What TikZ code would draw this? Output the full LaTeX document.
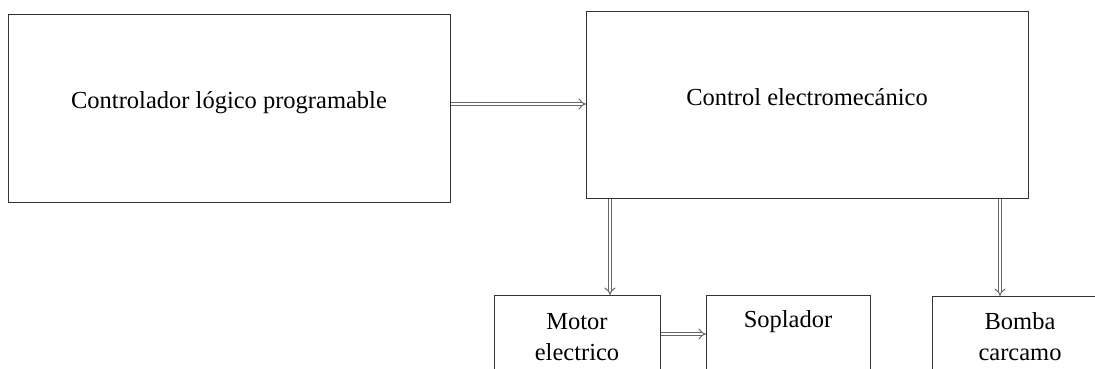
\documentclass[tikz,border=0pt]{standalone}
\usepackage{fontspec}
\setmainfont{Liberation Serif}
\usetikzlibrary{arrows.meta}
\begin{document}
\begin{tikzpicture}[x=1pt,y=-1pt,
  box/.style={draw=black!80, line width=1.3pt, rectangle, inner sep=0pt, anchor=north west},
  lbl/.style={font=\fontsize{24.5}{31}\selectfont, align=center, inner sep=0pt},
  dbl/.style={draw=black!60, line width=1pt, double=white, double distance=2.8pt, -{Implies[length=5pt]}, shorten >=0pt}]
\useasboundingbox (0,0) rectangle (1095,368);
\clip (0,0) rectangle (1095,368);
\node[box, minimum width=442pt, minimum height=188pt] (b1) at (8,14) {};
\node[box, minimum width=442pt, minimum height=187pt] (b2) at (586,11) {};
\node[box, minimum width=166pt, minimum height=90pt] (m) at (494,295) {};
\node[box, minimum width=164pt, minimum height=90pt] (s) at (706,295) {};
\node[box, minimum width=180pt, minimum height=90pt] (bc) at (932,296) {};
\node[lbl] (t1) at (229,103) {Controlador lógico programable};
\node[lbl] (t2) at (807,97) {Control electromecánico};
\node[lbl] (t3) at (577,337) {Motor\\electrico};
\node[lbl] (t4) at (788,322) {Soplador};
\node[lbl] (t5) at (1020,337) {Bomba\\carcamo};
\draw[dbl] (b1.east |- 0,104) -- (b2.west |- 0,104);
\draw[dbl] (b2.south -| 610,0) -- (m.north -| 610,0);
\draw[dbl] (b2.south -| 1000,0) -- (bc.north -| 1000,0);
\draw[dbl] (m.east |- 0,334) -- (s.west |- 0,334);
\end{tikzpicture}
\end{document}
